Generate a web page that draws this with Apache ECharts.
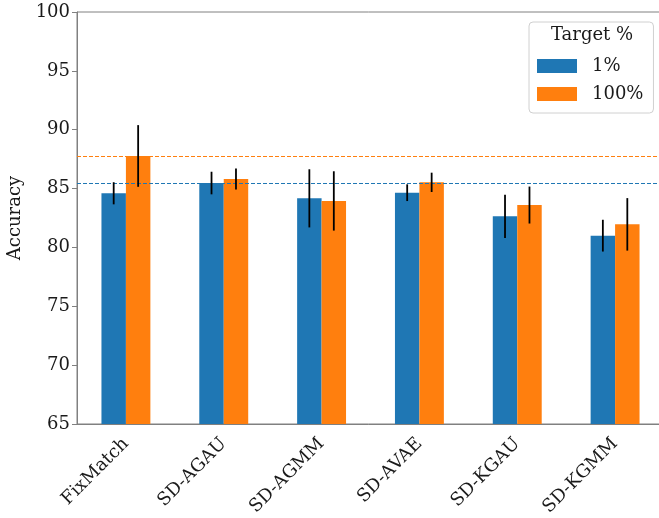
<!DOCTYPE html>
<html>
<head>
<meta charset="utf-8">
<script src="https://cdn.jsdelivr.net/npm/echarts@6/dist/echarts.min.js"></script>
<style>
  html, body { margin: 0; padding: 0; background: #fff; }
  #chart { width: 659px; height: 518px; }
</style>
</head>
<body>
<div id="chart"></div>
<script>
// Methods on the x axis
const categories = ['FixMatch', 'SD-AGAU', 'SD-AGMM', 'SD-AVAE', 'SD-KGAU', 'SD-KGMM'];
// Mean accuracy and spread (half-length of the error bar) per target fraction
const acc1 = [84.60, 85.47, 84.17, 84.65, 82.64, 81.00];
const err1 = [0.94, 0.96, 2.47, 0.71, 1.83, 1.35];
const acc100 = [87.77, 85.81, 83.95, 85.53, 83.60, 81.96];
const err100 = [2.62, 0.89, 2.52, 0.82, 1.57, 2.23];
const seriesNames = ['1%', '100%'];
const yTicks = { min: 65, max: 100, step: 5 };

const FONT = 'DejaVu Serif';
const TEXT = '#1a1a1a';
const SPINE = '#808080';
const BLUE = '#1f77b4';
const ORANGE = '#ff7f0e';

const chart = echarts.init(document.getElementById('chart'), null, { renderer: 'canvas' });

// Error bars: vertical line at each bar centre, offset by a quarter of the band
function errorSeries(name, means, errs, shift) {
  return {
    type: 'custom',
    name: name + ' err',
    z: 10,
    silent: true,
    data: means.map((m, i) => [i, m - errs[i], m + errs[i]]),
    renderItem: function (params, api) {
      const band = api.size([1, 0])[0];
      const lo = api.coord([api.value(0), api.value(1)]);
      const hi = api.coord([api.value(0), api.value(2)]);
      const x = lo[0] + shift * band;
      return {
        type: 'line',
        shape: { x1: x, y1: lo[1], x2: x, y2: hi[1] },
        style: { stroke: '#000', lineWidth: 1.8 }
      };
    }
  };
}

// Bars, each with a dashed reference line at the series' best value
function barSeries(name, values, color) {
  return {
    type: 'bar',
    name: name,
    data: values,
    barWidth: '25%',
    barGap: '0%',
    itemStyle: { color: color },
    markLine: {
      silent: true,
      symbol: 'none',
      label: { show: false },
      itemStyle: { color: color },
      lineStyle: { color: color, type: [4, 2], width: 1.2, opacity: 1 },
      data: [{ type: 'max' }],
      z: 5
    }
  };
}

const option = {
  animation: false,
  backgroundColor: '#fff',
  textStyle: { fontFamily: FONT, color: TEXT },
  grid: {
    left: 77, top: 12, width: 587, bottom: 94,
    outerBoundsMode: 'none',
    containLabel: false,
    show: true, borderColor: SPINE, borderWidth: 1, backgroundColor: 'transparent'
  },
  legend: {
    data: seriesNames,
    orient: 'vertical',
    left: 529, top: 22,
    padding: [35, 10, 10, 8],
    itemWidth: 40, itemHeight: 14,
    itemGap: 10,
    icon: 'rect',
    backgroundColor: '#fff',
    borderColor: '#d0d0d0', borderWidth: 1, borderRadius: 4,
    textStyle: { fontFamily: FONT, fontSize: 18, color: TEXT, padding: [0, 0, 0, 10] },
    selectedMode: false
  },
  graphic: [{
    type: 'text',
    left: 591 - 40, top: 26,
    style: { text: 'Target %', font: '18px "DejaVu Serif"', fill: TEXT, width: 80, align: 'center' },
    z: 100
  }],
  xAxis: {
    type: 'category',
    data: categories,
    axisLine: { lineStyle: { color: SPINE, width: 1 } },
    axisTick: { alignWithLabel: true, length: 5, lineStyle: { color: SPINE } },
    axisLabel: { rotate: 45, fontFamily: FONT, fontSize: 18, color: TEXT, margin: 17, interval: 0 }
  },
  yAxis: {
    type: 'value',
    min: yTicks.min, max: yTicks.max, interval: yTicks.step,
    name: 'Accuracy',
    nameLocation: 'middle',
    nameGap: 48,
    nameTextStyle: { fontFamily: FONT, fontSize: 18, color: TEXT },
    axisLine: { show: true, lineStyle: { color: SPINE, width: 1 } },
    axisTick: { show: true, length: 5, lineStyle: { color: SPINE } },
    axisLabel: { fontFamily: FONT, fontSize: 18, color: TEXT, margin: 7 },
    splitLine: { show: false }
  },
  series: [
    barSeries(seriesNames[0], acc1, BLUE),
    barSeries(seriesNames[1], acc100, ORANGE),
    errorSeries(seriesNames[0], acc1, err1, -0.125),
    errorSeries(seriesNames[1], acc100, err100, 0.125)
  ]
};

chart.setOption(option);
</script>
</body>
</html>
